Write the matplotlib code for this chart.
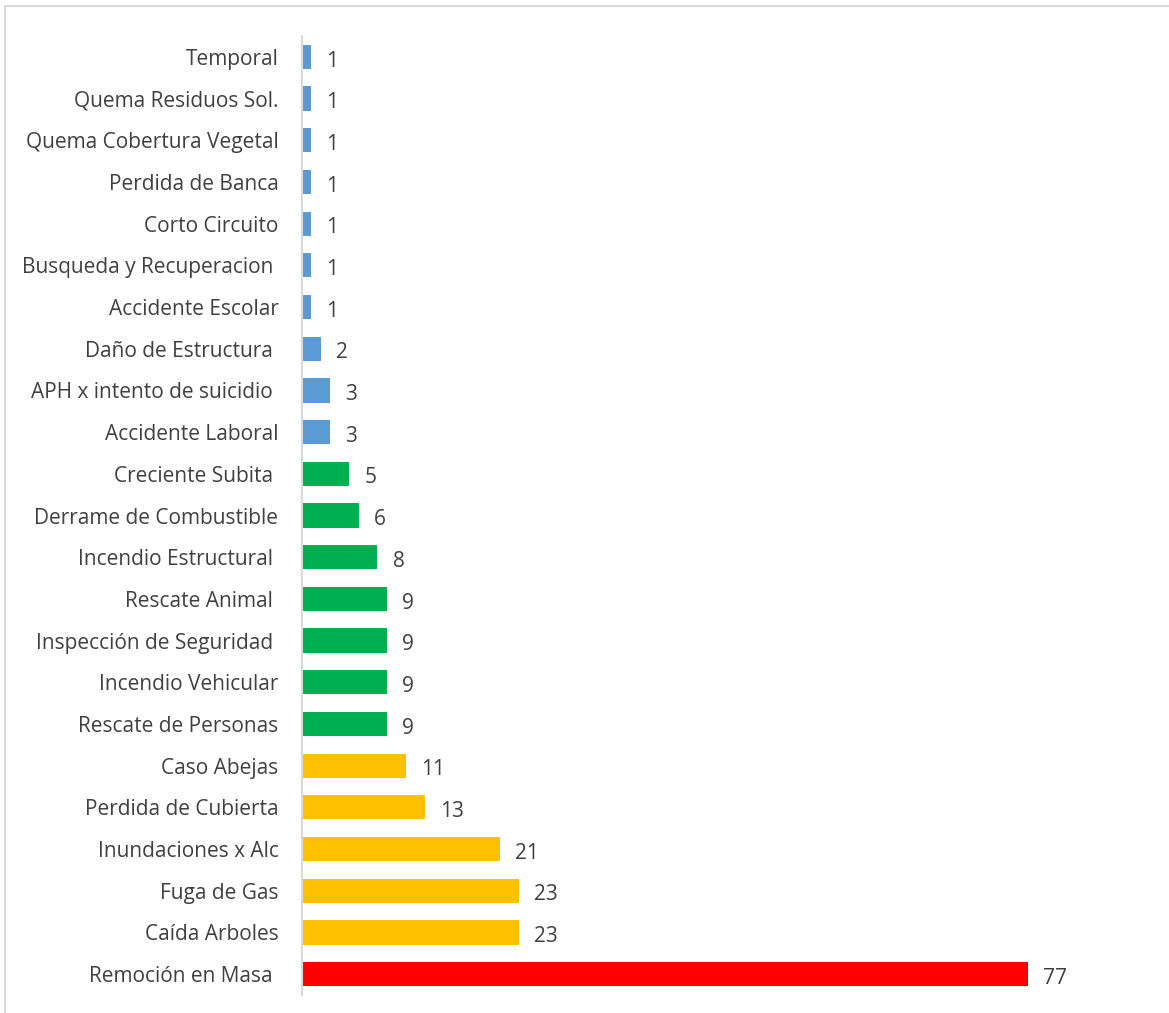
import matplotlib
matplotlib.use("Agg")
import matplotlib.pyplot as plt
from matplotlib.patches import Rectangle

# categories top -> bottom, trailing spaces kept as in the original labels
categories = ['Temporal', 'Quema Residuos Sol.', 'Quema Cobertura Vegetal', 'Perdida de Banca',
              'Corto Circuito', 'Busqueda y Recuperacion ', 'Accidente Escolar', 'Daño de Estructura ',
              'APH x intento de suicidio ', 'Accidente Laboral', 'Creciente Subita ',
              'Derrame de Combustible', 'Incendio Estructural ', 'Rescate Animal ',
              'Inspección de Seguridad ', 'Incendio Vehicular', 'Rescate de Personas',
              'Caso Abejas', 'Perdida de Cubierta', 'Inundaciones x Alc', 'Fuga de Gas',
              'Caída Arboles', 'Remoción en Masa ']
values = [1, 1, 1, 1, 1, 1, 1, 2, 3, 3, 5, 6, 8, 9, 9, 9, 9, 11, 13, 21, 23, 23, 77]
groups = ['low'] * 10 + ['mid'] * 7 + ['high'] * 5 + ['top']

colors = {'low': '#5B9BD5', 'mid': '#00B050', 'high': '#FFC000', 'top': '#FF0000'}
text_color = '#404040'

plt.rcParams['font.family'] = ['Open Sans', 'DejaVu Sans']

fig = plt.figure(figsize=(11.69, 10.13), dpi=100)
ax = fig.add_axes([302 / 1169, 18 / 1013, 849 / 1169, 959 / 1013])

# chart frame (cropped at right and bottom in the original)
fig.patches.append(Rectangle((5 / 1169, -0.1), 1.2, 1.1 - 6 / 1013, transform=fig.transFigure,
                             fill=False, edgecolor='#D9D9D9', linewidth=1.5))

ypos = list(range(len(categories)))
ax.barh(ypos, values, height=0.58, color=[colors[g] for g in groups])
for y, v in zip(ypos, values):
    ax.text(v + 1.6, y + 0.1, str(v), va='center', ha='left', fontsize=15, color=text_color)

ax.set_yticks(ypos)
ax.set_yticklabels(categories, fontsize=15, color=text_color)
ax.tick_params(axis='y', length=0, pad=17)
ax.set_xticks([])
ax.set_xlim(0, 90)
ax.set_ylim(len(categories) - 0.5, -0.5)

for s in ['top', 'right', 'bottom']:
    ax.spines[s].set_visible(False)
ax.spines['left'].set_color('#D9D9D9')
ax.spines['left'].set_linewidth(1.5)

fig.savefig('out.png', dpi=100)
